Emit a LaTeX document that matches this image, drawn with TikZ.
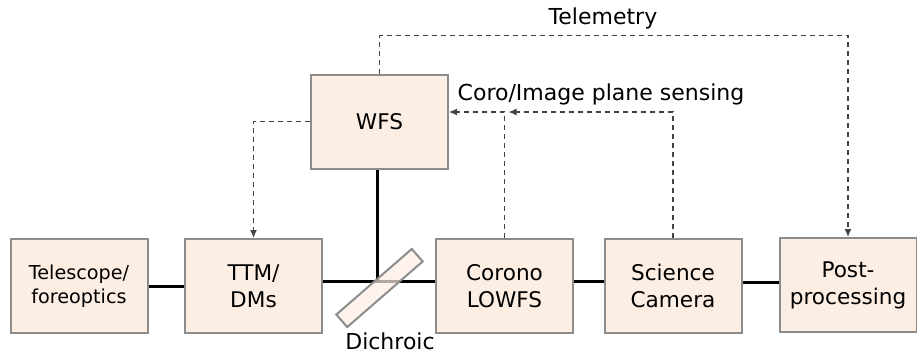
\documentclass[tikz,border=0pt]{standalone}
\usepackage{fontspec}
\setmainfont{DejaVu Sans}
\usetikzlibrary{arrows.meta}
\definecolor{boxfill}{HTML}{FDEEE4}
\definecolor{boxline}{HTML}{8C8C8C}
\definecolor{ctrlline}{HTML}{444444}
\tikzset{
  unit/.style={draw=boxline, fill=boxfill, line width=1pt, minimum width=68.5pt, minimum height=47pt, align=center, font=\fontsize{10.8}{13.5}\selectfont, inner sep=1pt},
  beam/.style={line width=1.5pt, black},
  ctrl/.style={ctrlline, line width=0.6pt, dash pattern=on 2.5pt off 2pt, -{Latex[length=4pt,width=3.5pt]}},
  lbl/.style={font=\fontsize{11}{13}\selectfont, inner sep=0pt}
}
\begin{document}
\begin{tikzpicture}[x=0.5pt, y=-0.5pt]
		\useasboundingbox (0,0) rectangle (917,354);
		% units
		\node[unit, font=\fontsize{9.6}{12}\selectfont] (tel) at (79,286) {Telescope/\\foreoptics};
		\node[unit] (ttm) at (253.5,286) {TTM/\\DMs};
		\node[unit] (wfs) at (379.5,121.5) {WFS};
		\node[unit] (coro) at (504.5,286) {Corono\\LOWFS};
		\node[unit] (sci) at (673,286) {Science\\Camera};
		\node[unit] (post) at (848,285) {Post-\\processing};
		\coordinate (dich) at (377,281);
		\coordinate (sense) at (0,112);
		% optical path
		\draw[beam] (tel) -- (ttm);
		\draw[beam] (ttm.east |- dich) -- (coro.west |- dich);
		\draw[beam] (wfs.south -| dich) -- (dich);
		\draw[beam] (coro.east |- dich) -- (sci.west |- dich);
		\draw[beam] (sci.east |- 0,282) -- (post.west |- 0,282);
		\node[draw=boxline, fill=boxfill, fill opacity=0.7, line width=1pt, minimum width=50pt, minimum height=8.3pt, inner sep=0pt, rotate=41] (dmirror) at (379.5,288) {};
		\node[lbl] (dlabel) at (390,341) {Dichroic};
		% control and telemetry
		\draw[ctrl] (wfs.west) -| (ttm.north);
		\draw[ctrl] (wfs.north) -- ++(0,-38) -| (post.north);
		\node[lbl] (tlabel) at (603,18) {Telemetry};
		\draw[ctrl] (coro.north) -- (coro.north |- sense) -- (wfs.east |- sense);
		\draw[ctrl] (sci.north) -- (sci.north |- sense) -- ([xshift=2pt]coro.north |- sense);
		\node[lbl] (slabel) at (601,94) {Coro/Image plane sensing};
\end{tikzpicture}
\end{document}
